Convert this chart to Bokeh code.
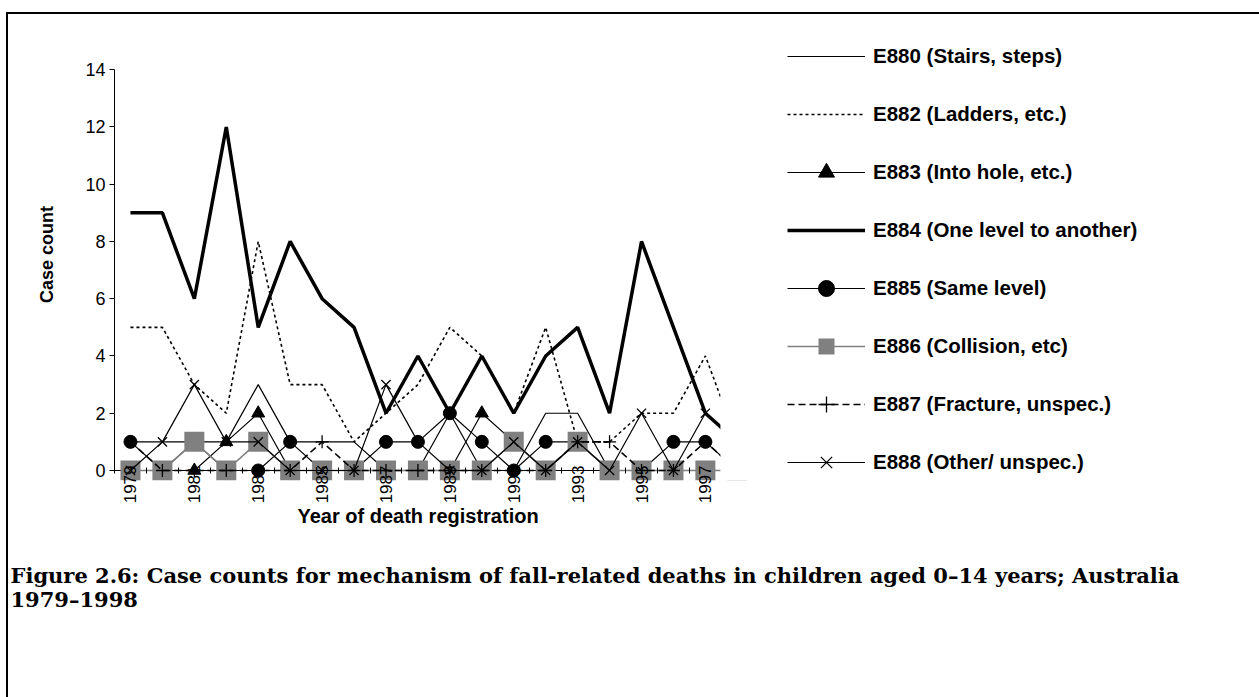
import math
from bokeh.plotting import figure
from bokeh.models import Range1d, FixedTicker, Legend, LegendItem, Span, Title, BoxAnnotation
from bokeh.embed import file_html
from bokeh.resources import INLINE

years = [1979, 1980, 1981, 1982, 1983, 1984, 1985, 1986, 1987, 1988,
         1989, 1990, 1991, 1992, 1993, 1994, 1995, 1996, 1997, 1998]
e880 = [1, 1, 1, 1, 3, 1, 1, 1, 0, 0, 2, 0, 0, 2, 2, 0, 0, 0, 0, 0]
e882 = [5, 5, 3, 2, 8, 3, 3, 1, 2, 3, 5, 4, 2, 5, 1, 1, 2, 2, 4, 1]
e883 = [0, 0, 0, 1, 2, 0, 0, 0, 0, 0, 0, 2, 1, 0, 1, 0, 0, 0, 0, 0]
e884 = [9, 9, 6, 12, 5, 8, 6, 5, 2, 4, 2, 4, 2, 4, 5, 2, 8, 5, 2, 1]
e885 = [1, 0, 1, 0, 0, 1, 0, 0, 1, 1, 2, 1, 0, 1, 1, 0, 0, 1, 1, 0]
e886 = [0, 0, 1, 0, 1, 0, 0, 0, 0, 0, 0, 0, 1, 0, 1, 0, 0, 0, 0, 0]
e887 = [1, 0, 0, 0, 0, 0, 1, 0, 0, 0, 0, 0, 0, 0, 1, 1, 0, 0, 1, 0]
e888 = [0, 1, 3, 1, 1, 0, 0, 0, 3, 1, 0, 0, 1, 0, 1, 0, 2, 0, 2, 1]

names = ["E880 (Stairs, steps)", "E882 (Ladders, etc.)", "E883 (Into hole, etc.)",
         "E884 (One level to another)", "E885 (Same level)", "E886 (Collision, etc)",
         "E887 (Fracture, unspec.)", "E888 (Other/ unspec.)"]
y_ticks = [0, 2, 4, 6, 8, 10, 12, 14]
x_label_years = years[0:19:2]

title_y = "Case count"
title_x = "Year of death registration"
caption = ("Figure 2.6: Case counts for mechanism of fall-related deaths in children aged 0\u201314 years; Australia\n"
           "1979\u20131998")

SANS = "Liberation Sans"

# plot area: axis from half a year before the first year; the visible part ends just
# before the last year (the original chart is cut off there)
x_lo = years[0] - 0.5
x_cut = years[-1] - 0.53
px_per_year = 31.94
x_hi = x_lo + (1259 - 114) / px_per_year

p = figure(width=1259, height=697, output_backend="svg", toolbar_location=None,
           x_range=Range1d(x_lo, x_hi), y_range=Range1d(-0.35, 15.44),
           min_border_left=114, min_border_right=0, min_border_top=28, min_border_bottom=217)
p.outline_line_color = None
p.xgrid.visible = False
p.ygrid.visible = False
p.background_fill_color = "white"
p.border_fill_alpha = 0
# the surrounding box of the original page (top and left edges visible)
p.styles = {"background": "linear-gradient(#000, #000) 6px 12px / 2px 100% no-repeat, "
                          "linear-gradient(#000, #000) 6px 12px / 100% 2px no-repeat, #fff"}

# x axis (its line drawn as a span at 0; ticks shifted up to cross the zero line)
xa = p.xaxis[0]
xa.bounds = (x_lo, x_cut)
xa.ticker = FixedTicker(ticks=x_label_years, minor_ticks=[y - 0.5 for y in years])
xa.axis_line_color = None
xa.major_tick_in = 0
xa.major_tick_out = 0
xa.minor_tick_in = 13
xa.minor_tick_out = -7
xa.minor_tick_line_color = "black"
xa.major_label_orientation = math.pi / 2
xa.major_label_text_font = SANS
xa.major_label_text_font_size = "17px"
xa.major_label_text_color = "black"
xa.major_label_standoff = -15

p.add_layout(Span(location=0, dimension="width", line_color="black", line_width=1, level="underlay"))

ya = p.yaxis[0]
ya.bounds = (0, 14)
ya.ticker = FixedTicker(ticks=y_ticks)
ya.major_tick_in = 0
ya.major_tick_out = 5
ya.minor_tick_in = 0
ya.minor_tick_out = 0
ya.axis_line_color = "black"
ya.major_label_text_font = SANS
ya.major_label_text_font_size = "18px"
ya.major_label_text_color = "black"
ya.major_label_standoff = 4
ya.axis_label = title_y
ya.axis_label_text_font = SANS
ya.axis_label_text_font_style = "bold"
ya.axis_label_text_font_size = "18px"
ya.axis_label_text_color = "black"
ya.axis_label_standoff = 25

series = [
    (e880, dict(line_color="black", line_width=1.2), None),
    (e882, dict(line_color="black", line_width=1.6, line_dash="3 3"), None),
    (e883, dict(line_color="black", line_width=1.2), dict(marker="triangle", size=13, fill_color="black", line_color="black")),
    (e884, dict(line_color="black", line_width=3.5), None),
    (e885, dict(line_color="black", line_width=1.2), dict(marker="circle", size=13, fill_color="black", line_color="black")),
    (e886, dict(line_color="#808080", line_width=1.6), dict(marker="square", size=20, fill_color="#808080", line_color=None)),
    (e887, dict(line_color="black", line_width=1.6, line_dash="7 4"), dict(marker="cross", size=13, line_color="black", line_width=1.3)),
    (e888, dict(line_color="black", line_width=1.2), dict(marker="x", size=13, line_color="black", line_width=1.3)),
]

items = []
for (vals, lkw, mkw), name in zip(series, names):
    rs = [p.line(years, vals, **lkw)]
    if mkw is not None:
        rs.append(p.scatter(years, vals, **mkw))
    items.append(LegendItem(label=name, renderers=rs))

# white mask: the original chart's plot area is cut off just before the last year
p.add_layout(BoxAnnotation(left=x_cut, fill_color="white", fill_alpha=1, line_color=None))

legend = Legend(items=items, location=(673, -2), glyph_width=78, glyph_height=40,
                label_standoff=8, spacing=18, padding=0, margin=0,
                border_line_color=None, background_fill_alpha=0,
                label_text_font=SANS, label_text_font_style="bold",
                label_text_font_size="20.5px", label_text_color="black")
p.add_layout(legend, "center")

# x-axis title, centred under the visible axis (left-aligned with an offset)
axis_w = (x_cut - x_lo) * px_per_year
xt = Title(text=title_x, align="left", offset=axis_w / 2 - 120, standoff=-8,
           text_font=SANS, text_font_style="bold", text_font_size="20px", text_color="black")
p.add_layout(xt, "below")

cap = Title(text=caption, align="left", offset=-104, standoff=77, text_font="DejaVu Serif",
            text_font_style="bold", text_font_size="21px", text_color="black",
            text_line_height=0.95)
p.add_layout(cap, "below")

open("out.html", "w").write(file_html(p, INLINE))
